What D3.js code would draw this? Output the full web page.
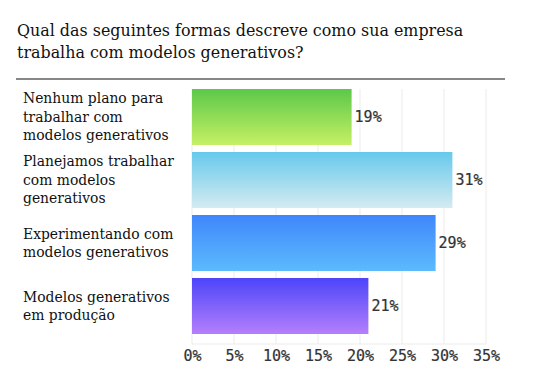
<!DOCTYPE html>
<html><head><meta charset="utf-8">
<script src="https://cdn.jsdelivr.net/npm/d3@7"></script>
<style>
body{margin:0;background:#fff;}
svg{display:block;}
</style></head>
<body>
<svg id="chart" width="547" height="381"></svg>
<script>
const titleLines = ["Qual das seguintes formas descreve como sua empresa", "trabalha com modelos generativos?"];
const categories = [
  ["Nenhum plano para", "trabalhar com", "modelos generativos"],
  ["Planejamos trabalhar", "com modelos", "generativos"],
  ["Experimentando com", "modelos generativos"],
  ["Modelos generativos", "em produção"]
];
const values = [19, 31, 29, 21];
const tickValues = [0, 5, 10, 15, 20, 25, 30, 35];
const gradientTop = ["#5cc84a", "#66c9ec", "#3f87fb", "#4c45f9"];
const gradientBottom = ["#c6f064", "#d4ebf1", "#5cbafd", "#b57ffc"];

const svg = d3.select("#chart");
const serif = "Georgia, 'DejaVu Serif', serif";
const mono = "'DejaVu Sans Mono', 'Liberation Mono', monospace";

svg.append("text")
  .attr("x", 17).attr("y", 35.5)
  .attr("font-family", serif).attr("font-size", 15.9).attr("fill", "#111")
  .selectAll("tspan").data(titleLines).join("tspan")
  .attr("x", 17).attr("dy", (d, i) => i === 0 ? 0 : 22)
  .text(d => d);

svg.append("line").attr("x1", 16).attr("x2", 505).attr("y1", 79).attr("y2", 79)
  .attr("stroke", "#111").attr("stroke-width", 1.2);

const x = d3.scaleLinear().domain([0, 35]).range([192, 486]);
const y = d3.scaleBand().domain(d3.range(categories.length)).range([89, 334]).paddingInner(0.111).paddingOuter(0);

const defs = svg.append("defs");
values.forEach((v, i) => {
  const g = defs.append("linearGradient").attr("id", "g" + i)
    .attr("x1", 0).attr("x2", 0).attr("y1", 0).attr("y2", 1);
  g.append("stop").attr("offset", "0%").attr("stop-color", gradientTop[i]);
  g.append("stop").attr("offset", "100%").attr("stop-color", gradientBottom[i]);
});

// gridlines
svg.append("g").selectAll("line").data(tickValues).join("line")
  .attr("x1", d => x(d)).attr("x2", d => x(d))
  .attr("y1", 89).attr("y2", 344)
  .attr("stroke", "#ebebeb").attr("stroke-width", 1);
svg.append("line").attr("x1", x(0)).attr("x2", x(35)).attr("y1", 344).attr("y2", 344)
  .attr("stroke", "#ebebeb");

// bars
svg.append("g").selectAll("rect").data(values).join("rect")
  .attr("x", x(0)).attr("y", (d, i) => y(i))
  .attr("width", d => x(d) - x(0)).attr("height", y.bandwidth())
  .attr("fill", (d, i) => `url(#g${i})`);

// value labels
svg.append("g").selectAll("text").data(values).join("text")
  .attr("x", d => x(d) + 3).attr("y", (d, i) => y(i) + y.bandwidth() / 2)
  .attr("dy", "0.35em")
  .attr("font-family", mono).attr("font-size", 15).attr("fill", "#333")
  .attr("stroke", "#333").attr("stroke-width", 0.2)
  .text(d => d + "%");

// category labels
const lineH = 18.5;
svg.append("g").selectAll("text").data(categories).join("text")
  .attr("font-family", serif).attr("font-size", 13.9).attr("fill", "#111")
  .each(function(lines, i) {
    const cy = y(i) + y.bandwidth() / 2;
    const start = cy - (lines.length - 1) * lineH / 2;
    d3.select(this).selectAll("tspan").data(lines).join("tspan")
      .attr("x", 23).attr("y", (d, j) => start + j * lineH)
      .attr("dy", "0.35em").text(d => d);
  });

// axis tick labels
const axis = d3.axisBottom(x).tickValues(tickValues).tickFormat(d => d + "%").tickSize(0).tickPadding(6);
const ag = svg.append("g").attr("transform", "translate(0,344)").call(axis);
ag.select(".domain").remove();
ag.selectAll("text").attr("font-family", mono).attr("font-size", 15).attr("fill", "#333")
  .attr("stroke", "#333").attr("stroke-width", 0.2);
</script>
</body></html>
